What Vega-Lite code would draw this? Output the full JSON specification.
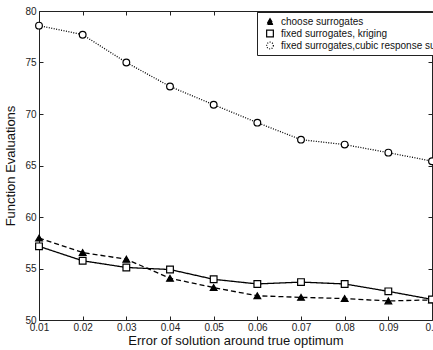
{
  "$schema": "https://vega.github.io/schema/vega-lite/v6.json",
  "width": 393,
  "height": 309,
  "autosize": {"type": "none"},
  "padding": {"left": 39, "top": 11, "right": 1, "bottom": 30},
  "background": "white",
  "config": {
    "font": "Liberation Sans",
    "view": {"stroke": "#222", "strokeWidth": 1},
    "axis": {
      "grid": false,
      "domain": false,
      "tickColor": "#222",
      "tickSize": -4,
      "labelColor": "#222",
      "labelFontSize": 10,
      "titleColor": "#111",
      "titleFontWeight": "normal"
    },
    "legend": {
      "orient": "none",
      "legendX": 218,
      "legendY": 1,
      "strokeColor": "#222",
      "fillColor": "white",
      "padding": 4,
      "rowPadding": 1,
      "clipHeight": 11,
      "symbolSize": 45,
      "symbolOffset": 4,
      "symbolStrokeWidth": 1.2,
      "labelFontSize": 10,
      "labelColor": "#111",
      "labelLimit": 300,
      "labelOffset": 6
    }
  },
  "data": {
    "values": [
      {"err": 0.01, "fe": 57.95, "series": "choose surrogates"},
      {"err": 0.02, "fe": 56.55, "series": "choose surrogates"},
      {"err": 0.03, "fe": 55.9, "series": "choose surrogates"},
      {"err": 0.04, "fe": 54.05, "series": "choose surrogates"},
      {"err": 0.05, "fe": 53.15, "series": "choose surrogates"},
      {"err": 0.06, "fe": 52.35, "series": "choose surrogates"},
      {"err": 0.07, "fe": 52.2, "series": "choose surrogates"},
      {"err": 0.08, "fe": 52.08, "series": "choose surrogates"},
      {"err": 0.09, "fe": 51.85, "series": "choose surrogates"},
      {"err": 0.1, "fe": 51.95, "series": "choose surrogates"},
      {"err": 0.01, "fe": 57.15, "series": "fixed surrogates, kriging"},
      {"err": 0.02, "fe": 55.75, "series": "fixed surrogates, kriging"},
      {"err": 0.03, "fe": 55.1, "series": "fixed surrogates, kriging"},
      {"err": 0.04, "fe": 54.9, "series": "fixed surrogates, kriging"},
      {"err": 0.05, "fe": 53.95, "series": "fixed surrogates, kriging"},
      {"err": 0.06, "fe": 53.5, "series": "fixed surrogates, kriging"},
      {"err": 0.07, "fe": 53.68, "series": "fixed surrogates, kriging"},
      {"err": 0.08, "fe": 53.5, "series": "fixed surrogates, kriging"},
      {"err": 0.09, "fe": 52.78, "series": "fixed surrogates, kriging"},
      {"err": 0.1, "fe": 52.0, "series": "fixed surrogates, kriging"},
      {"err": 0.01, "fe": 78.58, "series": "fixed surrogates,cubic response surface"},
      {"err": 0.02, "fe": 77.7, "series": "fixed surrogates,cubic response surface"},
      {"err": 0.03, "fe": 75.0, "series": "fixed surrogates,cubic response surface"},
      {"err": 0.04, "fe": 72.67, "series": "fixed surrogates,cubic response surface"},
      {"err": 0.05, "fe": 70.9, "series": "fixed surrogates,cubic response surface"},
      {"err": 0.06, "fe": 69.16, "series": "fixed surrogates,cubic response surface"},
      {"err": 0.07, "fe": 67.51, "series": "fixed surrogates,cubic response surface"},
      {"err": 0.08, "fe": 67.03, "series": "fixed surrogates,cubic response surface"},
      {"err": 0.09, "fe": 66.25, "series": "fixed surrogates,cubic response surface"},
      {"err": 0.1, "fe": 65.42, "series": "fixed surrogates,cubic response surface"}
    ]
  },
  "layer": [
    {
      "mark": {"type": "line", "color": "black", "strokeWidth": 1.3, "clip": false},
      "encoding": {
        "x": {
          "field": "err", "type": "quantitative",
          "scale": {"domain": [0.01, 0.1], "nice": false, "zero": false},
          "axis": {
            "orient": "bottom",
            "values": [0.01, 0.02, 0.03, 0.04, 0.05, 0.06, 0.07, 0.08, 0.09, 0.1],
            "labelExpr": "format(datum.value, '.2~f')",
            "labelPadding": 6,
            "labelFlush": false,
            "labelOverlap": false,
            "title": "Error of solution around true optimum",
            "titleFontSize": 13,
            "titlePadding": 2
          }
        },
        "y": {
          "field": "fe", "type": "quantitative",
          "scale": {"domain": [50, 80], "nice": false, "zero": false},
          "axis": {
            "orient": "left",
            "values": [50, 55, 60, 65, 70, 75, 80],
            "labelPadding": 7,
            "labelFlush": false,
            "title": "Function Evaluations",
            "titleFontSize": 13,
            "titlePadding": 7
          }
        },
        "strokeDash": {
          "field": "series", "type": "nominal",
          "scale": {
            "domain": ["choose surrogates", "fixed surrogates, kriging", "fixed surrogates,cubic response surface"],
            "range": [[5, 3], [1, 0], [1, 1.5]]
          },
          "legend": {"title": null}
        }
      }
    },
    {
      "mark": {"type": "point", "filled": true, "stroke": "black", "strokeWidth": 1.2, "size": 45, "opacity": 1, "clip": false},
      "encoding": {
        "x": {
          "field": "err", "type": "quantitative",
          "axis": {"orient": "top", "labels": false, "title": null,
                   "values": [0.01, 0.02, 0.03, 0.04, 0.05, 0.06, 0.07, 0.08, 0.09, 0.1]}
        },
        "y": {
          "field": "fe", "type": "quantitative",
          "axis": {"orient": "right", "labels": false, "title": null,
                   "values": [50, 55, 60, 65, 70, 75, 80]}
        },
        "shape": {
          "field": "series", "type": "nominal",
          "scale": {
            "domain": ["choose surrogates", "fixed surrogates, kriging", "fixed surrogates,cubic response surface"],
            "range": ["triangle-up", "square", "circle"]
          },
          "legend": {"title": null}
        },
        "fill": {
          "field": "series", "type": "nominal",
          "scale": {
            "domain": ["choose surrogates", "fixed surrogates, kriging", "fixed surrogates,cubic response surface"],
            "range": ["black", "white", "white"]
          },
          "legend": {"title": null}
        }
      }
    }
  ]
}
